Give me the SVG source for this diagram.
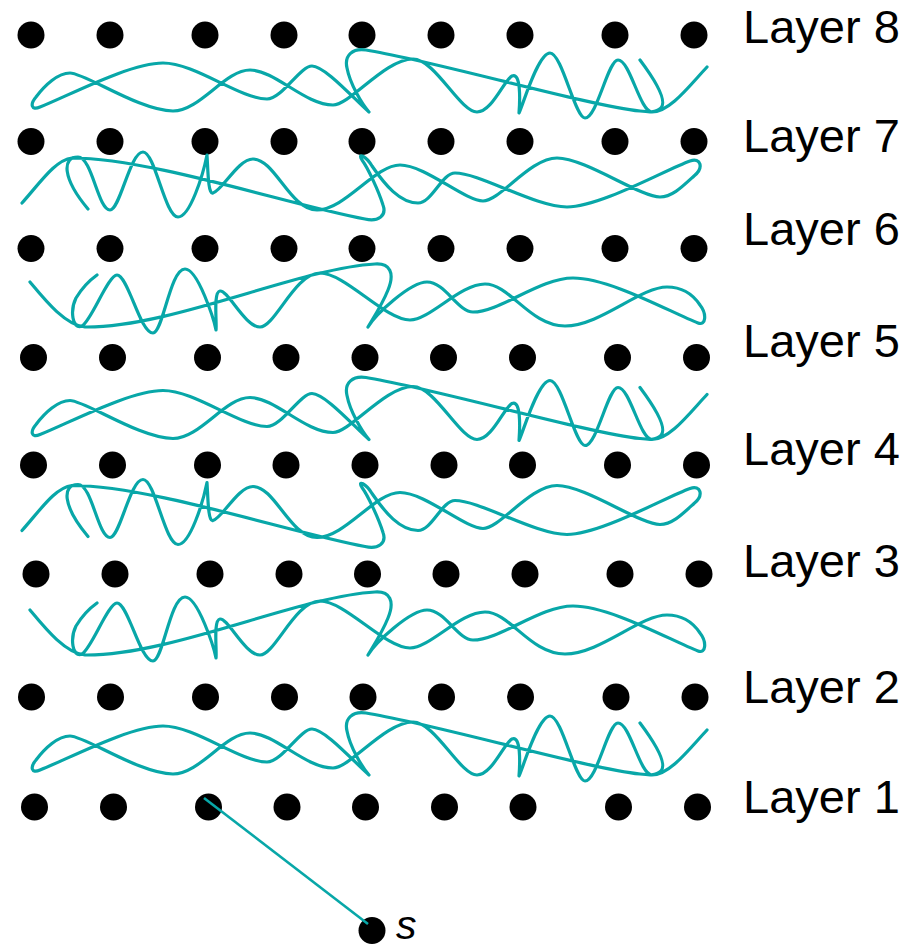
<svg xmlns="http://www.w3.org/2000/svg" width="918" height="948" viewBox="0 0 918 948">
  <style>
    .dot { fill: #000; }
    .wave { fill: none; stroke: #08a7a8; stroke-width: 3.2; stroke-linecap: round; stroke-linejoin: round; }
    .link { stroke: #08a7a8; stroke-width: 2.6; }
    .lbl { font-family: "Liberation Sans", Arial, sans-serif; font-size: 47px; fill: #000; }
    .src { font-family: "Liberation Sans", Arial, sans-serif; font-size: 41px; font-style: italic; fill: #000; }
  </style>
  <defs>
    <!-- three hand-drawn scribbles, reused between successive layers -->
    <path id="waveA" d="M640,60 C652,76 668,100 661,108 C656,113 648,112 640,111 C590,106 430,60 366,50 C353,48 344,55 347,68 C350,84 362,104 369,112 C355,100 325,66 312,66 C300,66 282,99 267,99 C240,99 195,63 163,63 C130,63 70,95 40,107 C31,111 30,104 36,97 C45,85 58,73 70,73 C85,73 140,111 173,111 C200,111 225,70 250,70 C275,70 305,105 333,105 C350,105 385,59 413,59 C435,59 460,112 477,112 C492,112 504,80 512,76 C521,72 520,100 519,113 C523,105 538,53 550,53 C562,53 575,118 585,118 C597,118 608,60 618,60 C630,60 640,112 652,112 C670,112 690,85 707,67"/>
    <path id="waveB" d="M22,203 C40,183 55,160 72,158 C150,158 290,205 365,219 C378,222 387,216 383,205 C379,192 368,168 362,160 C357,152 366,156 372,166 C385,185 400,203 418,203 C432,203 442,173 455,173 C480,173 535,207 567,207 C600,207 665,170 690,161 C701,157 704,168 694,176 C682,187 672,197 660,197 C640,197 585,158 557,158 C530,158 500,201 483,201 C465,201 425,165 400,165 C375,165 345,210 317,210 C290,210 275,159 253,159 C238,159 222,191 213,193 C208,195 208,170 207,155 C203,175 190,217 178,217 C165,217 155,152 143,152 C130,152 120,210 110,210 C98,210 92,157 78,157 C62,157 62,178 88,209"/>
    <path id="waveC" d="M30,282 C45,300 65,325 85,327 C170,328 300,268 375,264 C390,263 395,273 388,290 C382,305 372,320 368,327 C375,315 410,282 427,282 C445,282 458,312 473,312 C500,312 540,278 573,278 C610,278 670,312 698,323 C706,326 707,314 700,305 C692,293 680,287 667,287 C640,287 600,326 565,326 C530,326 510,284 485,284 C460,284 430,320 410,320 C385,320 345,273 320,273 C295,273 275,327 260,327 C245,327 228,290 220,291 C213,292 217,322 216,330 C214,320 198,269 185,269 C170,269 163,333 153,333 C140,333 128,275 117,275 C108,275 92,320 82,326 C72,330 70,310 76,298 C82,288 90,280 97,275"/>
  </defs>

  <g id="layer-8">
    <circle class="dot" cx="31" cy="35" r="13.5"/><circle class="dot" cx="110" cy="35" r="13.5"/><circle class="dot" cx="205" cy="35" r="13.5"/>
    <circle class="dot" cx="284" cy="35" r="13.5"/><circle class="dot" cx="362" cy="35" r="13.5"/><circle class="dot" cx="441" cy="35" r="13.5"/>
    <circle class="dot" cx="520" cy="35" r="13.5"/><circle class="dot" cx="615" cy="35" r="13.5"/><circle class="dot" cx="694" cy="35" r="13.5"/>
    <text class="lbl" x="743" y="43">Layer 8</text>
  </g>
  <g id="layer-7">
    <circle class="dot" cx="31" cy="141.5" r="13.5"/><circle class="dot" cx="110" cy="141.5" r="13.5"/><circle class="dot" cx="205" cy="141.5" r="13.5"/>
    <circle class="dot" cx="284" cy="141.5" r="13.5"/><circle class="dot" cx="362" cy="141.5" r="13.5"/><circle class="dot" cx="441" cy="141.5" r="13.5"/>
    <circle class="dot" cx="520" cy="141.5" r="13.5"/><circle class="dot" cx="615" cy="141.5" r="13.5"/><circle class="dot" cx="694" cy="141.5" r="13.5"/>
    <text class="lbl" x="743" y="152">Layer 7</text>
  </g>
  <g id="layer-6">
    <circle class="dot" cx="31" cy="248.5" r="13.5"/><circle class="dot" cx="110" cy="248.5" r="13.5"/><circle class="dot" cx="205" cy="248.5" r="13.5"/>
    <circle class="dot" cx="284" cy="248.5" r="13.5"/><circle class="dot" cx="362" cy="248.5" r="13.5"/><circle class="dot" cx="441" cy="248.5" r="13.5"/>
    <circle class="dot" cx="520" cy="248.5" r="13.5"/><circle class="dot" cx="615" cy="248.5" r="13.5"/><circle class="dot" cx="694" cy="248.5" r="13.5"/>
    <text class="lbl" x="743" y="245">Layer 6</text>
  </g>
  <g id="layer-5">
    <circle class="dot" cx="33.5" cy="357.5" r="13.5"/><circle class="dot" cx="112.5" cy="357.5" r="13.5"/><circle class="dot" cx="207.5" cy="357.5" r="13.5"/>
    <circle class="dot" cx="286" cy="357.5" r="13.5"/><circle class="dot" cx="365" cy="357.5" r="13.5"/><circle class="dot" cx="443.5" cy="357.5" r="13.5"/>
    <circle class="dot" cx="522.5" cy="357.5" r="13.5"/><circle class="dot" cx="617.5" cy="357.5" r="13.5"/><circle class="dot" cx="696.5" cy="357.5" r="13.5"/>
    <text class="lbl" x="743" y="357">Layer 5</text>
  </g>
  <g id="layer-4">
    <circle class="dot" cx="33.5" cy="465" r="13.5"/><circle class="dot" cx="112.5" cy="465" r="13.5"/><circle class="dot" cx="207.5" cy="465" r="13.5"/>
    <circle class="dot" cx="286" cy="465" r="13.5"/><circle class="dot" cx="365" cy="465" r="13.5"/><circle class="dot" cx="444" cy="465" r="13.5"/>
    <circle class="dot" cx="522.5" cy="465" r="13.5"/><circle class="dot" cx="617.5" cy="465" r="13.5"/><circle class="dot" cx="696.5" cy="465" r="13.5"/>
    <text class="lbl" x="743" y="465">Layer 4</text>
  </g>
  <g id="layer-3">
    <circle class="dot" cx="36" cy="574" r="13.5"/><circle class="dot" cx="115" cy="574" r="13.5"/><circle class="dot" cx="210" cy="574" r="13.5"/>
    <circle class="dot" cx="289" cy="574" r="13.5"/><circle class="dot" cx="367.5" cy="574" r="13.5"/><circle class="dot" cx="446" cy="574" r="13.5"/>
    <circle class="dot" cx="525" cy="574" r="13.5"/><circle class="dot" cx="620" cy="574" r="13.5"/><circle class="dot" cx="699" cy="574" r="13.5"/>
    <text class="lbl" x="743" y="577">Layer 3</text>
  </g>
  <g id="layer-2">
    <circle class="dot" cx="31.5" cy="697" r="13.5"/><circle class="dot" cx="110.5" cy="697" r="13.5"/><circle class="dot" cx="205.5" cy="697" r="13.5"/>
    <circle class="dot" cx="284.5" cy="697" r="13.5"/><circle class="dot" cx="363" cy="697" r="13.5"/><circle class="dot" cx="441.5" cy="697" r="13.5"/>
    <circle class="dot" cx="520.5" cy="697" r="13.5"/><circle class="dot" cx="616" cy="697" r="13.5"/><circle class="dot" cx="695" cy="697" r="13.5"/>
    <text class="lbl" x="743" y="703">Layer 2</text>
  </g>
  <g id="layer-1">
    <circle class="dot" cx="34.5" cy="807" r="13.5"/><circle class="dot" cx="113.5" cy="807" r="13.5"/><circle class="dot" cx="208.5" cy="807" r="13.5"/>
    <circle class="dot" cx="287" cy="807" r="13.5"/><circle class="dot" cx="365.5" cy="807" r="13.5"/><circle class="dot" cx="444.5" cy="807" r="13.5"/>
    <circle class="dot" cx="523" cy="807" r="13.5"/><circle class="dot" cx="618.5" cy="807" r="13.5"/><circle class="dot" cx="697.5" cy="807" r="13.5"/>
    <text class="lbl" x="743" y="813">Layer 1</text>
  </g>
  <g id="source">
    <circle class="dot" cx="372" cy="930.5" r="13.5"/>
    <text class="src" x="396" y="939">s</text>
  </g>

  <g id="connectors">
    <use href="#waveA" class="wave"/>
    <use href="#waveB" class="wave"/>
    <use href="#waveC" class="wave"/>
    <use href="#waveA" class="wave" transform="translate(0,327.5)"/>
    <use href="#waveB" class="wave" transform="translate(0,327.5)"/>
    <use href="#waveC" class="wave" transform="translate(0,328)"/>
    <use href="#waveA" class="wave" transform="translate(0,663)"/>
    <line class="link" x1="368" y1="924" x2="204" y2="798"/>
  </g>
</svg>
